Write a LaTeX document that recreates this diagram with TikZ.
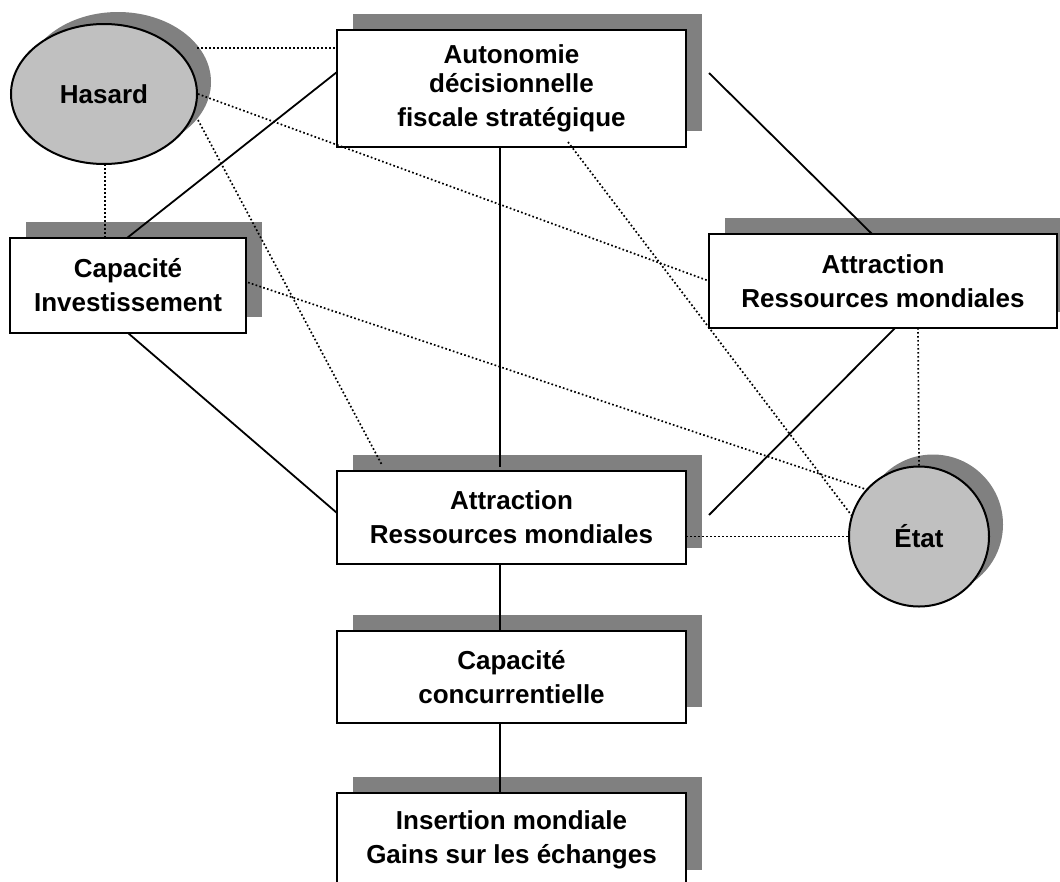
\documentclass[tikz,border=0pt]{standalone}
\usepackage{fontspec}
\setmainfont{Liberation Sans}
\usetikzlibrary{shadows,shapes.geometric}
\definecolor{shadowgray}{HTML}{808080}
\definecolor{discgray}{HTML}{C0C0C0}
\tikzset{
  boxshadow/.style={general shadow={fill=shadowgray, shadow xshift=16pt, shadow yshift=16pt}},
  ovalshadow/.style={general shadow={fill=shadowgray, shadow xshift=14pt, shadow yshift=12pt}},
  labelfont/.style={font=\bfseries\fontsize{26}{34}\selectfont},
  factor/.style={draw, line width=2pt, fill=white, boxshadow, rectangle,
    inner sep=0pt, outer sep=0pt, align=center, labelfont},
  actor/.style={draw, line width=2pt, fill=discgray, ovalshadow,
    inner sep=0pt, outer sep=0pt, align=center, labelfont},
  link/.style={line width=1.8pt},
  weak/.style={line width=1.7pt, dash pattern=on 1.7pt off 2.3pt},
}
\begin{document}
\begin{tikzpicture}[x=1pt,y=-1pt]
\clip (0,0) rectangle (1060,881);

% boxes and actors
\node[factor, minimum width=349pt, minimum height=117pt] (auto) at (511.5,88.5)
  {Autonomie\\[-5pt]décisionnelle\\fiscale stratégique};
\node[factor, minimum width=236pt, minimum height=95pt] (capinv) at (128,285.5)
  {Capacité\\Investissement};
\node[factor, minimum width=348pt, minimum height=94pt] (attrR) at (883,281)
  {Attraction\\Ressources mondiales};
\node[factor, minimum width=349pt, minimum height=93pt] (attrM) at (511.5,517.5)
  {Attraction\\Ressources mondiales};
\node[factor, minimum width=349pt, minimum height=92pt] (capc) at (511.5,677)
  {Capacité\\concurrentielle};
\node[factor, minimum width=349pt, minimum height=93pt] (ins) at (511.5,839.5)
  {Insertion mondiale\\Gains sur les échanges};
\node[actor, ellipse, minimum width=186pt, minimum height=140pt] (hasard) at (104,94) {Hasard};
\node[actor, circle, minimum size=140pt] (etat) at (919,536.5) {État};

% strong links
\draw[link] ([xshift=-1pt]capinv.north) -- ([yshift=16.5pt]auto.west);
\draw[link] (capinv.south) -- ([yshift=4.5pt]attrM.west);
\draw[link] ([xshift=-11.5pt]auto.south) -- ([xshift=-11.5pt,yshift=4pt]attrM.north);
\draw[link] ([xshift=23pt,yshift=15.5pt]auto.east) -- ([xshift=-11pt]attrR.north);
\draw[link] ([xshift=12pt]attrR.south) -- ([xshift=23pt,yshift=2.5pt]attrM.east);
\draw[link] ([xshift=-11.5pt]attrM.south) -- ([xshift=-11.5pt]capc.north);
\draw[link] ([xshift=-11.5pt]capc.south) -- ([xshift=-11.5pt]ins.north);

% weak links
\draw[weak] ([yshift=46pt]hasard.east) -- ([yshift=40.5pt]auto.west);
\draw[weak] ([xshift=1pt]hasard.east) -- (attrR.west);
\draw[weak] ([xshift=1pt,yshift=-26pt]hasard.east) -- ([xshift=45pt,yshift=6pt]attrM.north west);
\draw[weak] ([xshift=1pt]hasard.south) -- ([xshift=-23pt]capinv.north);
\draw[weak] ([xshift=2pt,yshift=3pt]capinv.east) -- (etat.138);
\draw[weak] ([xshift=56.5pt,yshift=5pt]auto.south) -- (etat.163);
\draw[weak] ([xshift=35pt]attrR.south) -- (etat.north);
\draw[weak] ([yshift=-19pt]attrM.east) -- (etat.west);
\end{tikzpicture}
\end{document}
